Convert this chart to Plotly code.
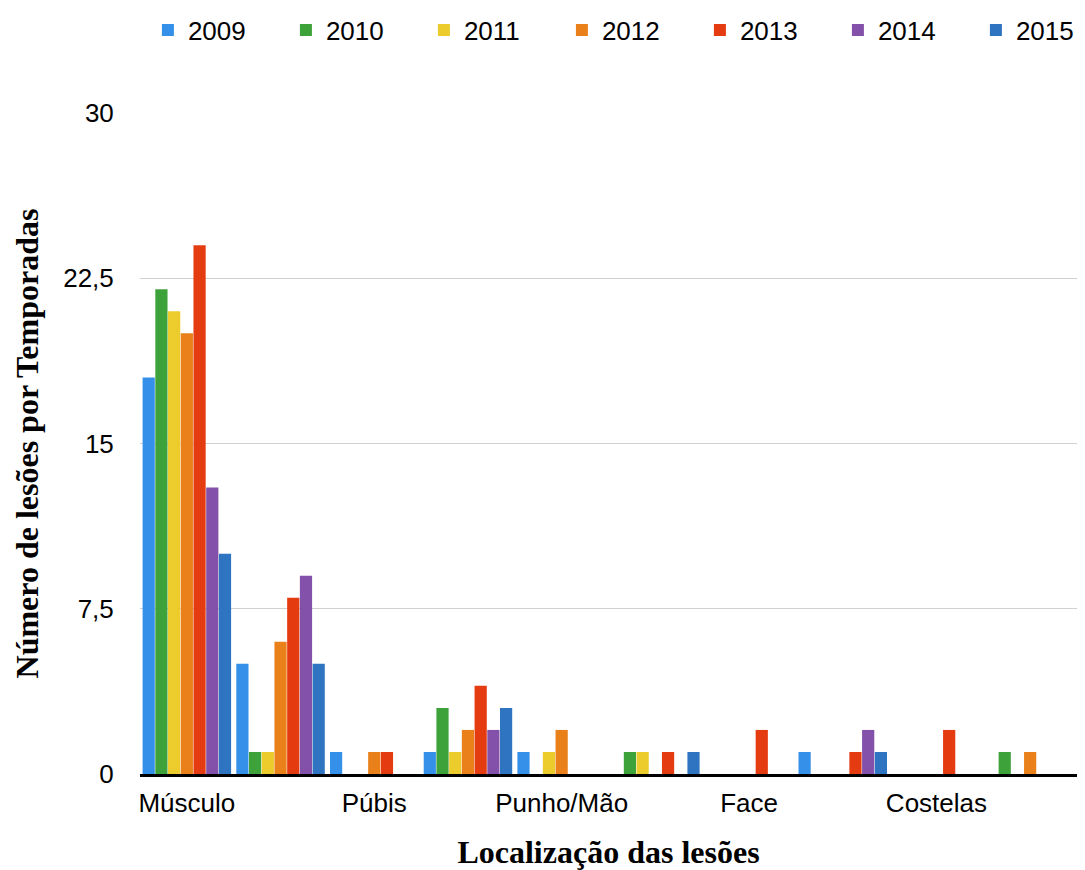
import plotly.graph_objects as go

# Injury sites (only every other site is labelled on the axis)
site_positions = list(range(10))
tick_positions = [0, 2, 4, 6, 8]
tick_labels = ["Músculo", "Púbis", "Punho/Mão", "Face", "Costelas"]

seasons = ["2009", "2010", "2011", "2012", "2013", "2014", "2015"]

v2009 = [18, 5, 1, 1, 1, 0, 0, 1, 0, 0]
v2010 = [22, 1, 0, 3, 0, 1, 0, 0, 0, 1]
v2011 = [21, 1, 0, 1, 1, 1, 0, 0, 0, 0]
v2012 = [20, 6, 1, 2, 2, 0, 0, 0, 0, 1]
v2013 = [24, 8, 1, 4, 0, 1, 2, 1, 2, 0]
v2014 = [13, 9, 0, 2, 0, 0, 0, 2, 0, 0]
v2015 = [10, 5, 0, 3, 0, 1, 0, 1, 0, 0]

series = [v2009, v2010, v2011, v2012, v2013, v2014, v2015]
colors = ["#3590ea", "#3ea23a", "#eccb2c", "#e98019", "#e53b10", "#8351a9", "#2f74c0"]

y_ticks = [0, 7.5, 15, 22.5, 30]

serif_bold = dict(family="Liberation Serif, Times New Roman, serif", size=32, weight="bold")

fig = go.Figure()
for name, vals, col in zip(seasons, series, colors):
    fig.add_trace(go.Bar(
        x=site_positions, y=vals, name=name,
        marker=dict(color=col, line=dict(width=0)),
    ))

# soft grey shadow under the baseline
fig.add_shape(
    type="line", xref="paper", yref="y",
    x0=0, x1=1, y0=-3, y1=-3,
    ysizemode="pixel", yanchor=0,
    line=dict(color="#9a9a9a", width=2),
    layer="below",
)

fig.update_layout(
    width=1085, height=870,
    autosize=False,
    paper_bgcolor="white", plot_bgcolor="white",
    separators=",.",
    barmode="group",
    bargap=0.05, bargroupgap=0.04,
    margin=dict(l=140, r=8, t=113, b=96, autoexpand=False),
    font=dict(family="Liberation Sans, Arial, sans-serif", size=26, color="black"),
    legend=dict(
        orientation="h", x=-0.0001, y=1.1256, xanchor="left", yanchor="middle",
        entrywidth=93, entrywidthmode="pixels",
        borderwidth=8, bordercolor="rgba(0,0,0,0)",
        font=dict(size=26), bgcolor="rgba(0,0,0,0)",
    ),
    xaxis=dict(
        range=[-0.5, 9.5],
        tickmode="array", tickvals=tick_positions, ticktext=tick_labels,
        ticks="outside", ticklen=4, tickcolor="rgba(0,0,0,0)",
        showline=True, linecolor="black", linewidth=3,
        showgrid=False, zeroline=False,
        title=dict(text="Localização das lesões", font=serif_bold, standoff=26),
        automargin=False,
    ),
    yaxis=dict(
        range=[0, 30],
        tickmode="array", tickvals=y_ticks,
        ticks="outside", ticklen=20, tickcolor="rgba(0,0,0,0)",
        showline=False, showgrid=True, gridcolor="#d0d0d0", gridwidth=1,
        zeroline=False,
        title=dict(text="Número de lesões por Temporadas", font=serif_bold, standoff=14),
        automargin=False,
    ),
)

fig.write_html("out.html")
